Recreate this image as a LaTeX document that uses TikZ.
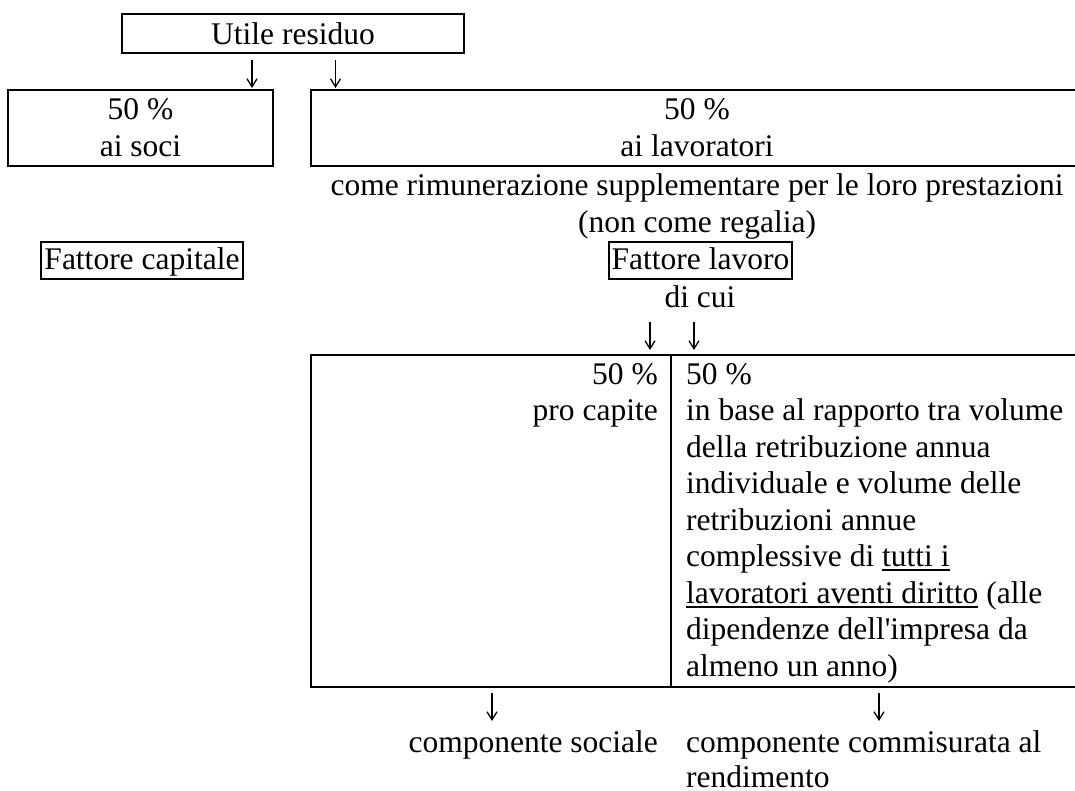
\documentclass[tikz,border=0pt]{standalone}
\usepackage{fontspec}
\setmainfont{Liberation Serif}
\usetikzlibrary{arrows.meta}
\newcommand\myul[1]{\setbox0\hbox{#1}\rlap{\rule[-4.5pt]{\wd0}{2pt}}\box0\relax}
\tikzset{
  txt/.style={inner sep=0pt, font=\fontsize{31.5}{36.5}\selectfont},
  frame/.style={draw, line width=2.6pt, inner sep=0pt},
  conn/.style={line width=1.3pt, -{Straight Barb[length=8pt,width=10pt]}},
}
\begin{document}
\begin{tikzpicture}[x=1pt,y=-1pt]
\useasboundingbox (0,0) rectangle (1075,791);
\clip (0,0) rectangle (1075,791);

% top box
\node[frame, minimum width=342pt, minimum height=39pt] (utile) at (293,33.5) {};
\node[txt, anchor=base] (utileT) at (293,45) {Utile residuo};

\coordinate (a1s) at (252,60); \coordinate (a1e) at (252,88);
\coordinate (a2s) at (335.5,60); \coordinate (a2e) at (335.5,88);
\draw[conn] (a1s) -- (a1e);
\draw[conn] (a2s) -- (a2e);

% second row boxes
\node[frame, minimum width=265pt, minimum height=76pt] (soci) at (140.5,128) {};
\node[txt, anchor=base] (soci1) at (140.5,120) {50 \%};
\node[txt, anchor=base] (soci2) at (140.5,157) {ai soci};

\node[frame, minimum width=774pt, minimum height=76pt] (lav) at (698,128) {};
\node[txt, anchor=base] (lav1) at (697,120) {50 \%};
\node[txt, anchor=base] (lav2) at (697,157) {ai lavoratori};

\node[txt, anchor=base] (come) at (697,196) {come rimunerazione supplementare per le loro prestazioni};
\node[txt, anchor=base] (regalia) at (697,233) {(non come regalia)};

% factor boxes
\node[frame, minimum width=202pt, minimum height=37pt] (capB) at (142,260.5) {};
\node[txt, anchor=base] (capT) at (142,270) {Fattore capitale};
\node[frame, minimum width=183pt, minimum height=37pt] (lavB) at (700.5,260.5) {};
\node[txt, anchor=base] (lavT) at (700.5,270) {Fattore lavoro};

\node[txt, anchor=base] (dicui) at (700,307) {di cui};

\coordinate (a3s) at (650,322); \coordinate (a3e) at (650,350);
\coordinate (a4s) at (694,322); \coordinate (a4e) at (694,350);
\draw[conn] (a3s) -- (a3e);
\draw[conn] (a4s) -- (a4e);

% table
\node[frame, minimum width=774pt, minimum height=332pt] (tab) at (698,521) {};
\coordinate (dtop) at (671,355); \coordinate (dbot) at (671,687);
\draw[line width=2.4pt] (dtop) -- (dbot);

\node[txt, anchor=base east] (l1) at (658,384) {50 \%};
\node[txt, anchor=base east] (l2) at (658,420.5) {pro capite};

\node[txt, anchor=base west] (r1) at (686,384) {50 \%};
\node[txt, anchor=base west] (r2) at (686,420.5) {in base al rapporto tra volume};
\node[txt, anchor=base west] (r3) at (686,457) {della retribuzione annua};
\node[txt, anchor=base west] (r4) at (686,493.5) {individuale e volume delle};
\node[txt, anchor=base west] (r5) at (686,530) {retribuzioni annue};
\node[txt, anchor=base west] (r6) at (686,566.5) {complessive di \myul{tutti i}};
\node[txt, anchor=base west] (r7) at (686,603) {\myul{lavoratori aventi diritto} (alle};
\node[txt, anchor=base west] (r8) at (686,639.5) {dipendenze dell\textquotesingle impresa da};
\node[txt, anchor=base west] (r9) at (686,676) {almeno un anno)};

% bottom
\coordinate (a5s) at (492,693); \coordinate (a5e) at (492,721);
\coordinate (a6s) at (879,693); \coordinate (a6e) at (879,721);
\draw[conn] (a5s) -- (a5e);
\draw[conn] (a6s) -- (a6e);

\node[txt, anchor=base east] (soc) at (658,752) {componente sociale};
\node[txt, anchor=base west] (rend1) at (686,752) {componente commisurata al};
\node[txt, anchor=base west] (rend2) at (686,787) {rendimento};
\end{tikzpicture}
\end{document}
